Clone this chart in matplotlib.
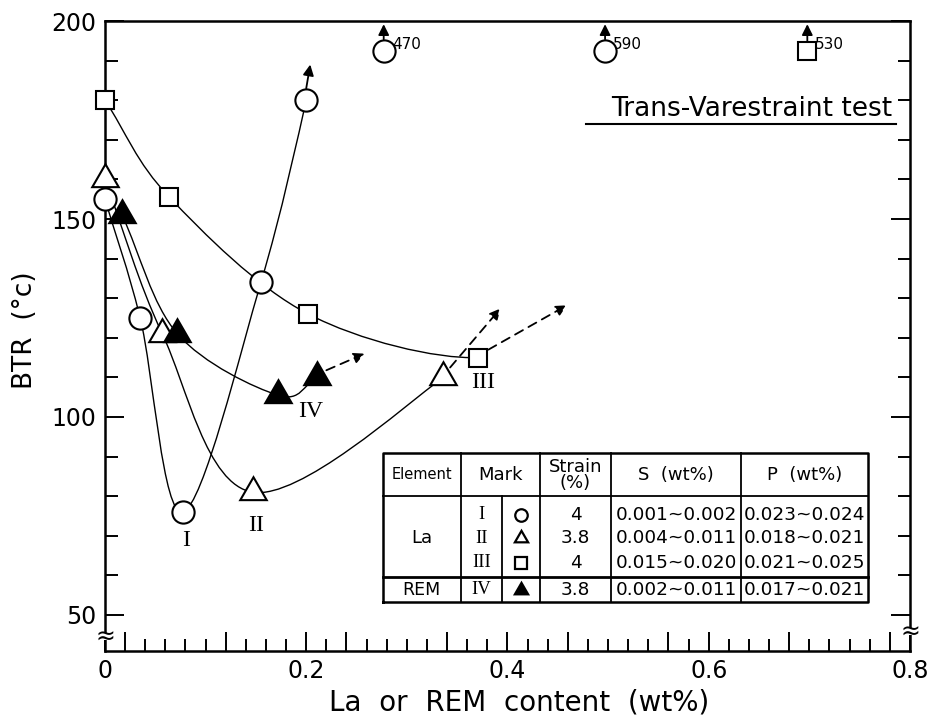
#!/usr/bin/env python3

import numpy as np
import matplotlib
matplotlib.use('Agg')
import matplotlib.pyplot as plt
from matplotlib.path import Path
from matplotlib.patches import PathPatch


# BTR vs. La / REM content, Trans-Varestraint test
la_I_x = [0.0, 0.035, 0.0775, 0.155, 0.200]
la_I_y = [155, 125, 76, 134, 180]

la_II_x = [0.0, 0.057, 0.147, 0.336]
la_II_y = [160, 121, 81, 110]

la_III_x = [0.0, 0.064, 0.202, 0.371]
la_III_y = [180, 155.5, 126, 115]

rem_IV_x = [0.017, 0.072, 0.172, 0.211]
rem_IV_y = [151, 121, 105.5, 110]

# trend beyond the last measured point (dashed arrows)
trend_II = (0.393, 127.4)
trend_III = (0.459, 128.2)
trend_IV = (0.258, 116.0)
trend_I = (0.204, 189.0)

# off-scale results, plotted at the top edge with their value
off_x = [0.277, 0.497, 0.698]
off_val = [470, 590, 530]
off_mark = ['o', 'o', 's']
off_y = 192.5

curve_names = ['I', 'II', 'III', 'IV']
curve_name_xy = [(0.0805, 68.9), (0.150, 72.7), (0.376, 108.8), (0.204, 101.3)]

table_head = ['Element', 'Mark', 'Strain\n(%)', 'S  (wt%)', 'P  (wt%)']
table_elem = ['La', 'REM']
table_num = ['I', 'II', 'III', 'IV']
table_strain = ['4', '3.8', '4', '3.8']
table_s = ['0.001~0.002', '0.004~0.011', '0.015~0.020', '0.002~0.011']
table_p = ['0.023~0.024', '0.018~0.021', '0.021~0.025', '0.017~0.021']

SERIF = 'Liberation Serif'
TRI = (3, 0, 0)


def smooth_curve(xs, ys, tail=None):
	# Catmull-Rom through the points, written out as cubic bezier segments
	p = np.column_stack([xs, ys]).astype(float)
	first = 2 * p[0] - p[1]
	last = np.array(tail, float) if tail is not None else 2 * p[-1] - p[-2]
	ext = np.vstack([first, p, last])
	verts = [p[0]]
	codes = [Path.MOVETO]
	for i in range(len(p) - 1):
		p0, p1, p2, p3 = ext[i], ext[i + 1], ext[i + 2], ext[i + 3]
		verts += [p1 + (p2 - p0) / 6.0, p2 - (p3 - p1) / 6.0, p2]
		codes += [Path.CURVE4] * 3
	return PathPatch(Path(verts, codes), fill=False, lw=1.0, ec='k', zorder=2)


def arrow(ax, start, end, dashed=False):
	ax.annotate('', xy=end, xytext=start,
		arrowprops=dict(arrowstyle='-|>', color='k', lw=1.3,
			ls=(0, (5, 3.5)) if dashed else '-',
			mutation_scale=16, shrinkA=0, shrinkB=0),
		zorder=3, annotation_clip=False)


def plot(out_file):
	fig = plt.figure(figsize=(9.29, 7.22), dpi=100)
	ax = fig.add_axes([0.113, 0.0983, 0.8665, 0.8726])
	ax.set_xlim(0, 0.8)
	ax.set_ylim(40.9, 200)

	for sp in ax.spines.values():
		sp.set_linewidth(1.8)

	ax.set_xticks(np.arange(0, 0.81, 0.2))
	ax.set_xticklabels(['0', '0.2', '0.4', '0.6', '0.8'])
	ax.set_yticks([50, 100, 150, 200])
	ax.set_yticks(np.arange(50, 200, 10), minor=True)
	ax.tick_params(which='both', direction='in', width=1.4, labelsize=17,
		right=True, top=False, pad=6)
	ax.tick_params(which='major', length=14)
	ax.tick_params(which='minor', length=9)
	# 0.1 steps on the x axis get the longer tick too
	minor_x = np.arange(0, 0.81, 0.02)
	ax.set_xticks(minor_x, minor=True)
	for t, v in zip(ax.xaxis.get_minor_ticks(), minor_x):
		if abs(v * 10 - round(v * 10)) < 1e-6:
			t.tick1line.set_markersize(14)

	ax.set_xlabel('La  or  REM  content  (wt%)', fontsize=20)
	ax.xaxis.set_label_coords(0.515, -0.060)
	ax.set_ylabel('BTR  (°c)', fontsize=19)
	ax.yaxis.set_label_coords(-0.083, 0.51)

	# axis break marks: cut the spine and put a wavy sign across it
	for xb, yb in [(0.0, 44.6), (0.8, 45.8)]:
		ax.plot([xb, xb], [yb - 0.9, yb + 0.9], color='white', lw=4,
			zorder=5, clip_on=False, solid_capstyle='butt')
		ax.text(xb, yb, '≈', fontsize=17, ha='center', va='center',
			clip_on=False, zorder=6)

	# curves
	ax.add_patch(smooth_curve(la_I_x, la_I_y, tail=trend_I))
	ax.add_patch(smooth_curve(la_II_x, la_II_y, tail=trend_II))
	ax.add_patch(smooth_curve(la_III_x, la_III_y, tail=trend_III))
	ax.add_patch(smooth_curve(rem_IV_x, rem_IV_y, tail=trend_IV))

	mk = dict(ls='none', mec='k', mew=1.5, zorder=4, clip_on=False)
	ax.plot(la_I_x, la_I_y, marker='o', ms=16, mfc='white', **mk)
	ax.plot(la_II_x, la_II_y, marker=TRI, ms=22, mfc='white', **mk)
	ax.plot(la_III_x, la_III_y, marker='s', ms=13, mfc='white', **mk)
	ax.plot(rem_IV_x, rem_IV_y, marker=TRI, ms=22, mfc='black', **mk)

	# continuation arrows
	arrow(ax, (la_I_x[-1], la_I_y[-1] + 3.0), trend_I)
	arrow(ax, (la_II_x[-1] + 0.007, la_II_y[-1] + 2.5), trend_II, dashed=True)
	arrow(ax, (la_III_x[-1] + 0.010, la_III_y[-1] + 2.0), trend_III, dashed=True)
	arrow(ax, (rem_IV_x[-1] + 0.009, rem_IV_y[-1] + 1.8), trend_IV, dashed=True)

	for x, v, m in zip(off_x, off_val, off_mark):
		ms = 16 if m == 'o' else 13
		ax.plot([x], [off_y], marker=m, ms=ms, mfc='white', **mk)
		top = off_y + (2.9 if m == 'o' else 2.3)
		arrow(ax, (x, top), (x, 199.2))
		ax.text(x + 0.008, off_y + 1.5, str(v), fontsize=11, ha='left', va='center')

	for name, (x, y) in zip(curve_names, curve_name_xy):
		ax.text(x, y, name, fontsize=17, family=SERIF, ha='center', va='center')

	# title with underline
	ax.text(0.978, 0.860, 'Trans-Varestraint test', transform=ax.transAxes,
		fontsize=19, ha='right', va='center')
	ax.plot([0.598, 0.983], [0.836, 0.836], transform=ax.transAxes,
		color='k', lw=1.5, clip_on=False)

	draw_table(ax)

	fig.savefig(out_file, dpi=100)


def draw_table(ax):
	tr = ax.transAxes
	L, R, T, B = 0.345, 0.948, 0.314, 0.078
	head_y, rem_y = 0.246, 0.117
	cols = [0.442, 0.540, 0.629, 0.790]
	mark_split = 0.493

	line = dict(transform=tr, color='k', lw=1.3, zorder=5)
	ax.plot([L, R, R, L, L], [B, B, T, T, B], **dict(line, lw=1.8))
	ax.plot([L, R], [head_y, head_y], **line)
	ax.plot([L, R], [rem_y, rem_y], **dict(line, lw=2.0))
	for c in cols:
		ax.plot([c, c], [B, T], **line)
	ax.plot([mark_split, mark_split], [B, head_y], **line)

	col_c = [(L + cols[0]) / 2, (cols[0] + cols[1]) / 2, (cols[1] + cols[2]) / 2,
		(cols[2] + cols[3]) / 2, (cols[3] + R) / 2]
	hy = (T + head_y) / 2
	for i, h in enumerate(table_head):
		fs = 10.5 if i == 0 else 13
		ax.text(col_c[i], hy, h, transform=tr, fontsize=fs, ha='center', va='center',
			linespacing=0.85, zorder=6)

	rows_y = [0.216, 0.179, 0.140, 0.097]
	ax.text(col_c[0], rows_y[1], table_elem[0], transform=tr, fontsize=13,
		ha='center', va='center', zorder=6)
	ax.text(col_c[0], rows_y[3], table_elem[1], transform=tr, fontsize=12.5,
		ha='center', va='center', zorder=6)

	num_x = (cols[0] + mark_split) / 2
	sym_x = (mark_split + cols[1]) / 2
	syms = [('o', 'white', 9), (TRI, 'white', 11), ('s', 'white', 8), (TRI, 'black', 11)]
	for i, y in enumerate(rows_y):
		ax.text(num_x, y, table_num[i], transform=tr, fontsize=13.5, family=SERIF,
			ha='center', va='center', zorder=6)
		m, fc, ms = syms[i]
		ax.plot([sym_x], [y], transform=tr, marker=m, ms=ms, mfc=fc, mec='k', mew=1.6,
			ls='none', zorder=6, clip_on=False)
		ax.text(col_c[2], y, table_strain[i], transform=tr, fontsize=13.3,
			ha='center', va='center', zorder=6)
		ax.text(col_c[3], y, table_s[i], transform=tr, fontsize=13.3,
			ha='center', va='center', zorder=6)
		ax.text(col_c[4], y, table_p[i], transform=tr, fontsize=13.3,
			ha='center', va='center', zorder=6)


if __name__ == "__main__":
	plot('out.png')
